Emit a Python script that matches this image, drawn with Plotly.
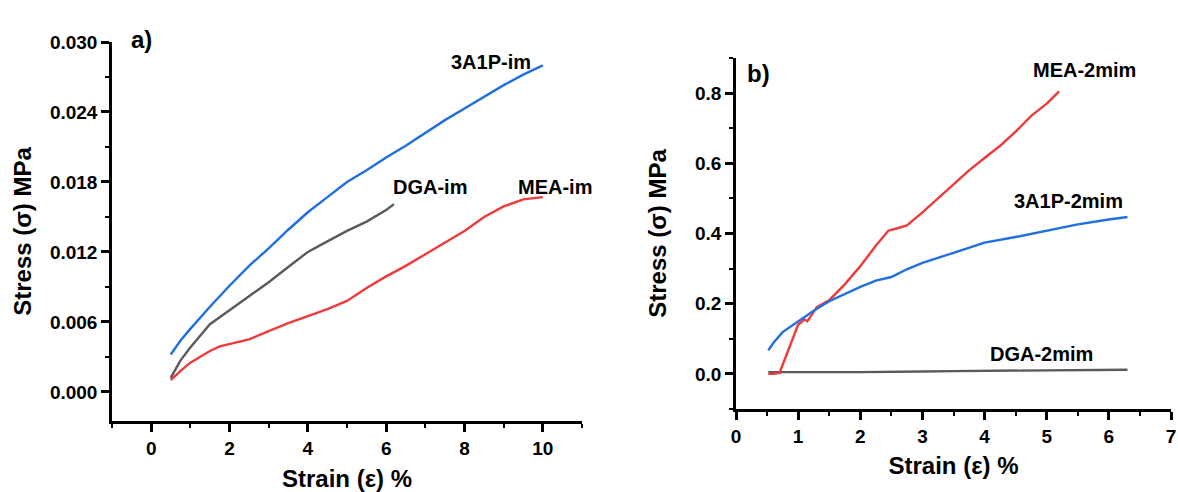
import plotly.graph_objects as go

# ---- Panel a data (strain %, stress MPa) ----
a_3a1p_x = [0.5, 0.75, 1.0, 1.25, 1.5, 1.75, 2.0, 2.5, 3.0, 3.5, 4.0, 4.5, 5.0, 5.5, 6.0, 6.5, 7.0, 7.5, 8.0, 8.5, 9.0, 9.5, 10.0]
a_3a1p_y = [0.0032, 0.0044, 0.0054, 0.0064, 0.0073, 0.0082, 0.0091, 0.0108, 0.0123, 0.0139, 0.0154, 0.0167, 0.0180, 0.0190, 0.0201, 0.0211, 0.0222, 0.0233, 0.0243, 0.0253, 0.0263, 0.0272, 0.0280]

a_dga_x = [0.5, 0.75, 1.0, 1.25, 1.5, 1.75, 2.0, 2.5, 3.0, 3.5, 4.0, 4.5, 5.0, 5.5, 6.0, 6.2]
a_dga_y = [0.0012, 0.0027, 0.0038, 0.0048, 0.0058, 0.0064, 0.0070, 0.0082, 0.0094, 0.0107, 0.0120, 0.0129, 0.0138, 0.0146, 0.0156, 0.0161]

a_mea_x = [0.5, 0.75, 1.0, 1.25, 1.5, 1.75, 2.0, 2.5, 3.0, 3.5, 4.0, 4.5, 5.0, 5.5, 6.0, 6.5, 7.0, 7.5, 8.0, 8.5, 9.0, 9.5, 10.0]
a_mea_y = [0.0010, 0.0018, 0.0025, 0.0030, 0.0035, 0.0039, 0.0041, 0.0045, 0.0052, 0.0059, 0.0065, 0.0071, 0.0078, 0.0089, 0.0099, 0.0108, 0.0118, 0.0128, 0.0138, 0.0150, 0.0159, 0.0165, 0.0167]

# ---- Panel b data ----
b_mea_x = [0.52, 0.6, 0.7, 0.85, 1.0, 1.1, 1.15, 1.3, 1.5, 1.75, 2.0, 2.25, 2.45, 2.6, 2.75, 3.0, 3.25, 3.5, 3.75, 4.0, 4.25, 4.5, 4.75, 5.0, 5.2]
b_mea_y = [0.0, 0.0, 0.003, 0.07, 0.14, 0.155, 0.15, 0.19, 0.21, 0.255, 0.307, 0.365, 0.408, 0.415, 0.423, 0.46, 0.5, 0.54, 0.58, 0.615, 0.65, 0.69, 0.735, 0.77, 0.805]

b_3a1p_x = [0.52, 0.6, 0.75, 1.0, 1.25, 1.5, 1.75, 2.0, 2.25, 2.5, 2.75, 3.0, 3.5, 4.0, 4.5, 5.0, 5.5, 6.0, 6.3]
b_3a1p_y = [0.067, 0.088, 0.119, 0.15, 0.18, 0.207, 0.228, 0.248, 0.266, 0.276, 0.298, 0.316, 0.345, 0.374, 0.39, 0.407, 0.426, 0.44, 0.447]

b_dga_x = [0.52, 1.0, 1.5, 2.0, 2.5, 3.0, 3.5, 4.0, 4.5, 5.0, 5.5, 6.0, 6.3]
b_dga_y = [0.005, 0.004, 0.005, 0.005, 0.007, 0.007, 0.008, 0.009, 0.009, 0.010, 0.011, 0.012, 0.012]

BLUE = "#1f6fe3"
RED = "#f03a3a"
GRAY = "#5a5a5a"
FONT = "Liberation Sans"

fig = go.Figure()
lw = 2.4
fig.add_trace(go.Scatter(x=a_3a1p_x, y=a_3a1p_y, mode="lines", line=dict(color=BLUE, width=lw), xaxis="x", yaxis="y"))
fig.add_trace(go.Scatter(x=a_dga_x, y=a_dga_y, mode="lines", line=dict(color=GRAY, width=lw), xaxis="x", yaxis="y"))
fig.add_trace(go.Scatter(x=a_mea_x, y=a_mea_y, mode="lines", line=dict(color=RED, width=lw), xaxis="x", yaxis="y"))
fig.add_trace(go.Scatter(x=b_dga_x, y=b_dga_y, mode="lines", line=dict(color=GRAY, width=lw), xaxis="x2", yaxis="y2"))
fig.add_trace(go.Scatter(x=b_mea_x, y=b_mea_y, mode="lines", line=dict(color=RED, width=lw), xaxis="x2", yaxis="y2"))
fig.add_trace(go.Scatter(x=b_3a1p_x, y=b_3a1p_y, mode="lines", line=dict(color=BLUE, width=lw), xaxis="x2", yaxis="y2"))

tickfont = dict(family=FONT, size=19, color="black", weight="bold")
titlefont = dict(family=FONT, size=24, color="black", weight="bold")

def xax(domain, anchor, rng, dtick, minor, standoff):
    return dict(domain=domain, anchor=anchor, range=rng, dtick=dtick, tick0=0,
                automargin=False, ticklabeloverflow="allow",
                showline=True, linecolor="black", linewidth=2.5, mirror=False,
                ticks="outside", ticklen=8, tickwidth=2.5, tickcolor="black",
                minor=dict(ticks="outside", ticklen=4, tickwidth=2, tickcolor="black", dtick=minor, tick0=0, showgrid=False),
                showgrid=False, zeroline=False, tickfont=tickfont,
                title=dict(text="Strain (ε) %", font=titlefont, standoff=standoff))

def yax(domain, anchor, rng, dtick, minor, fmt, standoff):
    return dict(domain=domain, anchor=anchor, range=rng, dtick=dtick, tick0=0,
                automargin=False, ticklabeloverflow="allow",
                showline=True, linecolor="black", linewidth=2.5, mirror=False,
                ticks="outside", ticklen=8, tickwidth=2.5, tickcolor="black",
                minor=dict(ticks="outside", ticklen=4, tickwidth=2, tickcolor="black", dtick=minor, tick0=0, showgrid=False),
                showgrid=False, zeroline=False, tickfont=tickfont, tickformat=fmt,
                title=dict(text="Stress (σ) MPa", font=titlefont, standoff=standoff))

W, H = 1178, 492
fig.update_layout(
    width=W, height=H,
    margin=dict(l=0, r=0, t=0, b=0),
    paper_bgcolor="white", plot_bgcolor="white",
    showlegend=False,
    font=dict(family=FONT, color="black"),
    xaxis=xax([112 / W, 582 / W], "y", [-1, 11], 2, 1, 14),
    yaxis=yax([1 - 421 / H, 1 - 42 / H], "x", [-0.0025, 0.030], 0.006, 0.003, ".3f", 12),
    xaxis2=xax([736 / W, 1171 / W], "y2", [0, 7], 1, 0.5, 12),
    yaxis2=yax([1 - 409 / H, 1 - 58 / H], "x2", [-0.1, 0.9], 0.2, 0.1, ".1f", 22),
)

ann_font = dict(family=FONT, size=20, color="black", weight="bold")
anns = [
    ("3A1P-im", 8.68, 0.0283, "x", "y"),
    ("DGA-im", 7.12, 0.01754, "x", "y"),
    ("MEA-im", 10.32, 0.01754, "x", "y"),
    ("MEA-2mim", 5.6, 0.866, "x2", "y2"),
    ("3A1P-2mim", 5.35, 0.494, "x2", "y2"),
    ("DGA-2mim", 4.92, 0.057, "x2", "y2"),
]
for text, x, y, xr, yr in anns:
    fig.add_annotation(text=text, x=x, y=y, xref=xr, yref=yr, showarrow=False, font=ann_font)

fig.add_annotation(text="a)", x=129 / W, y=1 - 24 / H, xref="paper", yref="paper", showarrow=False,
                   font=dict(family=FONT, size=24, color="black", weight="bold"))
fig.add_annotation(text="b)", x=758 / W, y=1 - 58 / H, xref="paper", yref="paper", showarrow=False,
                   font=dict(family=FONT, size=24, color="black", weight="bold"))

fig.write_html("out.html",
               config={"displayModeBar": False},
               post_script="document.body.style.margin='0px';document.body.style.overflow='hidden';")
